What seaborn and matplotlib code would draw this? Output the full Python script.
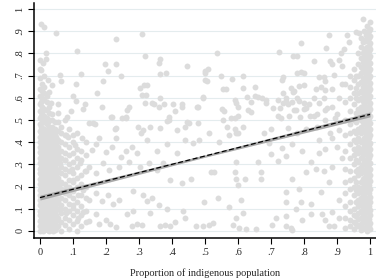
import numpy as np
import pandas as pd
import matplotlib
matplotlib.use("Agg")
import matplotlib.pyplot as plt
import seaborn as sns

# dense cluster at low indigenous share: column x, list of y values
left_col_x = [0, .003, .006, .009, .013, .016, .02, .024, .028, .032, .036, .041, .045, .05,
              .055, .065, .075, .087, .1, .112, .125, .14]
left_col_y = [
    [.0, .02, .045, .07, .09, .115, .14, .16, .185, .21, .235, .26, .28, .305, .33, .355, .38, .4, .425, .45, .48, .51, .54, .57, .61, .64, .69, .73, .77],
    [.025, .055, .085, .125, .155, .195, .225, .25, .29, .315, .345, .37, .41, .44, .47, .52, .58],
    [.01, .035, .06, .08, .105, .13, .15, .175, .2, .22, .245, .27, .295, .32, .345, .37, .39, .415, .44, .465, .5, .53, .56, .6, .63, .66],
    [.0, .02, .045, .07, .095, .125, .16, .19, .21, .235, .26, .285, .31, .33, .355, .38, .405, .43, .455, .49, .545],
    [.005, .03, .05, .075, .1, .12, .145, .17, .19, .215, .24, .265, .29, .31, .335, .36, .385, .41, .435, .46, .49, .52, .55, .59, .62, .65, .7],
    [.015, .04, .065, .09, .11, .135, .16, .18, .205, .23, .25, .28, .3, .325, .35, .375, .4, .42, .45, .5],
    [.015, .04, .065, .09, .11, .135, .16, .18, .205, .23, .255, .275, .3, .325, .35, .375, .4, .43, .455, .48, .51, .545, .58, .61],
    [.005, .03, .055, .08, .105, .125, .145, .17, .19, .215, .24, .265, .285, .31, .335, .36, .385, .41, .44, .49],
    [.0, .025, .05, .075, .1, .125, .15, .17, .195, .22, .245, .27, .295, .32, .345, .37, .395, .42, .45, .47, .5, .53, .56],
    [.015, .035, .06, .085, .11, .135, .16, .18, .205, .23, .25, .28, .3, .33, .355, .38, .405, .43],
    [.01, .04, .065, .09, .12, .14, .165, .19, .215, .24, .26, .285, .31, .34, .365, .39, .415, .44, .47, .5, .525],
    [.0, .02, .045, .07, .1, .125, .15, .175, .2, .225, .25, .275, .3, .33, .355, .38, .41, .45],
    [.005, .03, .055, .085, .11, .135, .16, .185, .21, .235, .26, .29, .315, .34, .37, .4, .43, .46, .49],
    [.015, .045, .07, .095, .12, .15, .18, .21, .23, .25, .28, .3, .33, .36, .39, .42],
    [.02, .06, .1, .13, .17, .2, .24, .27, .31, .34, .38, .41, .45, .49, .53, .57],
    [.0, .04, .08, .115, .15, .19, .22, .26, .29, .33, .36, .4, .44, .47],
    [.025, .06, .1, .14, .17, .21, .25, .28, .32, .35, .39, .43, .5],
    [.01, .05, .09, .12, .16, .2, .23, .27, .3, .34, .38, .46],
    [.03, .07, .105, .15, .18, .22, .26, .31, .35, .4],
    [.0, .045, .09, .13, .2, .24, .29, .33, .37, .44],
    [.02, .07, .11, .16, .21, .25, .32, .36],
    [.04, .09, .15, .2, .27, .34, .4],
]

# dense cluster at high indigenous share
right_col_x = [.925, .94, .95, .956, .962, .972, .978, .983, .988, .992, .997, 1.0]
right_col_y = [
    [.015, .06, .11, .17, .22, .28, .36, .43, .5, .58, .66],
    [.02, .05, .09, .13, .19, .23, .27, .33, .39, .44, .48, .54, .6, .65, .7],
    [.01, .04, .07, .1, .16, .2, .24, .3, .34, .37, .41, .45, .5, .57, .62, .68, .73],
    [.03, .065, .13, .185, .22, .27, .32, .36, .4, .44, .49, .53, .6, .645, .7],
    [.02, .055, .08, .11, .14, .17, .2, .25, .28, .31, .35, .38, .42, .46, .52, .55, .59, .62, .66, .7, .75, .8],
    [.005, .03, .06, .09, .12, .15, .18, .22, .26, .29, .33, .36, .4, .44, .47, .5, .53, .56, .6, .63, .67, .71, .74, .78, .83, .87],
    [.015, .04, .075, .105, .135, .165, .2, .235, .27, .3, .34, .375, .41, .455, .49, .52, .55, .585, .62, .65, .69, .725, .76, .8, .85],
    [.015, .045, .075, .105, .13, .165, .21, .24, .27, .3, .32, .36, .39, .42, .45, .48, .51, .54, .57, .6, .63, .66, .69, .72, .75, .78, .81, .86, .9],
    [.01, .035, .06, .095, .125, .15, .185, .215, .25, .28, .31, .345, .37, .4, .435, .46, .495, .525, .55, .585, .615, .64, .675, .705, .735, .765, .795, .825, .855, .885],
    [.0, .025, .05, .085, .115, .14, .175, .2, .235, .265, .29, .325, .355, .38, .415, .445, .47, .505, .535, .56, .595, .625, .65, .685, .715, .74, .775, .805, .83, .865, .895, .925],
    [.02, .055, .08, .11, .145, .17, .205, .24, .27, .3, .33, .36, .385, .42, .45, .48, .51, .54, .565, .6, .63, .655, .69, .72, .75, .78, .81, .835, .87, .9],
    [.01, .035, .07, .095, .13, .155, .19, .225, .25, .28, .305, .34, .37, .395, .43, .46, .485, .52, .55, .575, .61, .64, .665, .7, .73, .755, .79, .82, .845, .88, .91, .94],
]

# scattered municipalities in between
mid_x = [.004, .012, .05, .229, .31, .113, .017, .019, .009, .004, .197, .229, .206, .246, .123, .06, .318,
         .023, .063, .108, .192, .037, .027, .174, .303, .315, .325, .31, .322, .034, .1, .108, .189, .27,
         .138, .13, .317, .34, .093, .265, .083, .262, .214,
         .535, .364, .361, .446, .364, .382, .5, .51, .505, .548, .583, .616, .564, .616, .652, .364, .495,
         .345, .36, .376, .402, .43, .43, .475, .59, .595, .6, .626, .64, .65, .66, .674, .684, .63, .64,
         .558, .6, .41, .39, .58,
         .98, .966, .877, .93, .956, .79, .867, .725, .766, .78, .83, .88, .912, .92, .935, .905, .915,
         .885, .89, .778, .79, .8, .733, .735, .846, .86, .865, .786, .8, .835, .85, .865, .885, .915,
         .766, .745, .78, .83, .86, .905, .735, .75, .765, .8, .845, .885, .726, .775, .805, .865, .685,
         .787, .817, .84, .9,
         .05, .08, .106, .126, .157, .17, .18, .2, .217, .23, .247, .262, .278, .293, .323, .354, .384,
         .414, .44, .06, .076, .096, .12, .136, .15, .17, .19, .21, .24, .27, .303, .33, .354, .374, .394,
         .43, .06, .08, .1, .115, .13, .15, .17, .187, .207, .22, .24, .283, .313, .323, .338, .36, .384,
         .06, .08, .1, .115, .13, .15, .17, .18, .2, .23, .212, .28, .293, .31, .364, .38, .394, .41, .44,
         .434, .283, .263, .334,
         .463, .483, .513, .543, .574, .594, .518, .528, .594, .59, .594, .62, .6, .67, .67, .66, .458,
         .498, .538, .574, .61, .614, .594, .473, .493, .513, .523, .584, .604, .624, .654, .704, .714,
         .745, .745, .76, .765, .775, .79, .745, .694, .7, .72, .745, .734, .765, .795, .765, .785, .745,
         .805, .82, .835, .85, .82, .795, .82, .855, .865, .875, .886, .906, .906, .89, .86, .876, .886,
         .916, .9, .865, .845, .886, .845,
         .086, .1, .15, .16, .166, .217, .227, .23, .25, .26, .298, .305, .313, .333, .363, .384, .39,
         .414, .44, .445,
         .452, .478, .493, .478, .5, .5, .556, .552, .556, .59, .566, .59, .615, .6, .68, .7, .72, .73,
         .755, .77, .745, .72, .705, .737, .785, .8, .815, .83, .805, .78, .84, .865, .87, .895, .905,
         .88, .75, .77, .76]
mid_y = [.932, .92, .89, .863, .887, .81, .80, .773, .755, .725, .75, .75, .72, .70, .707, .703, .788,
         .68, .676, .662, .676, .658, .627, .62, .643, .658, .658, .613, .613, .575, .61, .586, .56, .56,
         .57, .55, .575, .575, .54, .545, .512, .51, .515,
         .80, .773, .758, .745, .707, .71, .71, .729, .676, .70, .683, .70, .638, .643, .65, .597, .602,
         .572, .56, .57, .572, .57, .56, .557, .59, .575, .56, .602, .58, .61, .604, .6, .59, .545, .535,
         .54, .52, .54, .512, .51,
         .953, .89, .883, .883, .895, .845, .826, .805, .788, .79, .767, .766, .80, .82, .85, .77, .745,
         .75, .703, .713, .715, .713, .68, .695, .692, .695, .675, .653, .658, .64, .647, .634, .64, .66,
         .627, .60, .60, .60, .597, .597, .575, .57, .58, .575, .575, .56, .555, .545, .553, .545, .575,
         .512, .518, .525, .525,
         .425, .43, .387, .417, .365, .39, .42, .357, .38, .42, .335, .36, .38, .35, .41, .36, .39,
         .35, .41, .305, .32, .28, .305, .27, .29, .26, .305, .275, .29, .31, .29, .305, .275, .305, .23,
         .215, .21, .19, .23, .16, .185, .14, .17, .135, .16, .12, .14, .18, .16, .135, .15, .115, .1,
         .1, .08, .115, .06, .085, .045, .075, .03, .05, .016, .03, .024, .03, .027, .024, .027, .024, .04, .06,
         .09, .09, .075, .08,
         .395, .41, .44, .40, .43, .44, .267, .267, .31, .265, .235, .235, .205, .267, .235, .31, .235,
         .132, .147, .107, .14, .08, .06, .02, .022, .027, .035, .027, .012, .01, .01, .027, .06,
         .067, .022, .012, .005, .1, .13, .13, .395, .345, .315, .337, .375, .39, .36, .235, .19, .175,
         .265, .31, .28, .175, .12, .05, .075, .075, .05, .022, .085, .14, .06, .022, .27, .22, .29,
         .33, .38, .37, .41, .42, .35,
         .425, .43, .487, .485, .48, .515, .46, .465, .51, .515, .47, .44, .455, .47, .465, .495, .50,
         .455, .47, .49,
         .485, .485, .597, .56, .72, .68, .64, .55, .5, .51, .47, .46, .47, .44, .44, .46, .52, .51,
         .52, .545, .585, .59, .555, .62, .585, .55, .57, .52, .46, .44, .47, .5, .555, .51, .455,
         .44, .465, .63, .645]

# fitted line and its confidence band
fit_x = [0, .5, 1]
fit_y = [.15, .3375, .525]
band_lo = [.139, .332, .514]
band_hi = [.161, .343, .536]

xs, ys = list(mid_x), list(mid_y)
for cx, col in zip(left_col_x + right_col_x, left_col_y + right_col_y):
    xs += [cx] * len(col)
    ys += col
df = pd.DataFrame({"indig": xs, "share": ys})

sns.set_style("white")
plt.rcParams["font.family"] = ["Liberation Serif", "DejaVu Serif"]

fig = plt.figure(figsize=(3.76, 2.8), dpi=100)
ax = fig.add_axes([34 / 376, 42 / 280, 342 / 376, 235 / 280])

ticks = np.round(np.arange(0, 1.01, .1), 1)
labels = ["0" if t == 0 else ("1" if t == 1 else ("%.1f" % t)[1:]) for t in ticks]
for t in ticks:
    ax.axhline(t, color="#e4ecee", lw=0.8, zorder=0)

sns.scatterplot(data=df, x="indig", y="share", ax=ax, color="#dcdcdc", s=18,
                linewidth=0, zorder=2, legend=False)
ax.fill_between(fit_x, band_lo, band_hi, color="#a9a9a9", lw=0, zorder=3)
sns.lineplot(x=fit_x, y=fit_y, ax=ax, color="black", lw=0.9, zorder=4)
ax.lines[-1].set_dashes([4, 2])

ax.set_xlim(-0.018, 1.018)
ax.set_ylim(-0.032, 1.027)
ax.set_xticks(ticks)
ax.set_xticklabels(labels)
ax.set_yticks(ticks)
ax.set_yticklabels(labels, rotation=90, va="center")
ax.tick_params(axis="both", length=4, width=0.8, color="black", labelsize=7.5, pad=3,
               bottom=True, left=True, direction="out")
ax.set_xlabel("Proportion of indigenous population", fontsize=7.5, labelpad=8)
ax.set_ylabel("")
for s in ["top", "right"]:
    ax.spines[s].set_visible(False)
for s in ["left", "bottom"]:
    ax.spines[s].set_color("black")
    ax.spines[s].set_linewidth(1.1)

fig.savefig("out.png", dpi=100)
